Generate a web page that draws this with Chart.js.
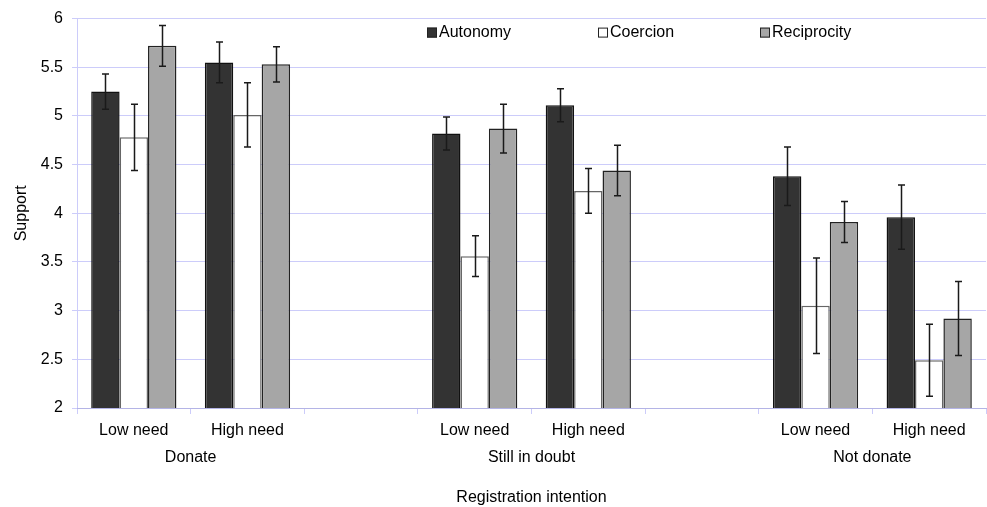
<!DOCTYPE html>
<html>
<head>
<meta charset="utf-8">
<title>Support by registration intention</title>
<script src="https://cdn.jsdelivr.net/npm/chart.js@4/dist/chart.umd.min.js"></script>
<style>
  html, body { margin: 0; padding: 0; background: #fff; }
  #wrap { width: 987px; height: 507px; }
</style>
</head>
<body>
<div id="wrap"><canvas id="chart" width="987" height="507"></canvas></div>
<script>
/* ── Data ─────────────────────────────────────────────────── */
var categories = ["Low need", "High need", "", "Low need", "High need", "", "Low need", "High need"];
var groups = ["Donate", "Still in doubt", "Not donate"];
var groupMembers = [[0, 1], [3, 4], [6, 7]];
var seriesNames = ["Autonomy", "Coercion", "Reciprocity"];

var autonomy      = [5.25, 5.55, null, 4.82, 5.11, null, 4.38, 3.96];
var autonomyErr   = [0.18, 0.21, null, 0.17, 0.17, null, 0.30, 0.33];
var coercion      = [4.78, 5.01, null, 3.56, 4.23, null, 3.05, 2.49];
var coercionErr   = [0.34, 0.33, null, 0.21, 0.23, null, 0.49, 0.37];
var reciprocity   = [5.72, 5.53, null, 4.87, 4.44, null, 3.91, 2.92];
var reciprocityErr = [0.21, 0.18, null, 0.25, 0.26, null, 0.21, 0.38];

var yTicks = { min: 2, max: 6, step: 0.5 };

/* ── Style ────────────────────────────────────────────────── */
var FONT = "'Liberation Sans', Arial, sans-serif";
var GRID = "rgb(204,204,250)";
Chart.defaults.font.family = FONT;
Chart.defaults.font.size = 16;
Chart.defaults.color = "#000";

/* ── Error bars ───────────────────────────────────────────── */
var errorBars = {
  id: "errorBars",
  afterDatasetsDraw: function (chart) {
    var ctx = chart.ctx, y = chart.scales.y;
    ctx.save();
    ctx.lineWidth = 1.5;
    ctx.strokeStyle = "#1a1a1a";
    chart.data.datasets.forEach(function (ds, i) {
      chart.getDatasetMeta(i).data.forEach(function (bar, j) {
        var v = ds.data[j], e = ds.errors[j];
        if (v == null || e == null) return;
        var top = y.getPixelForValue(v + e), bot = y.getPixelForValue(v - e);
        var x = Math.round(bar.x) + 0.5;
        ctx.beginPath();
        ctx.moveTo(x, top); ctx.lineTo(x, bot);
        ctx.moveTo(x - 3.5, top); ctx.lineTo(x + 3.5, top);
        ctx.moveTo(x - 3.5, bot); ctx.lineTo(x + 3.5, bot);
        ctx.stroke();
      });
    });
    ctx.restore();
  }
};

/* ── Group labels + inset legend ──────────────────────────── */
var extras = {
  id: "extras",
  afterDraw: function (chart) {
    var ctx = chart.ctx, x = chart.scales.x, area = chart.chartArea;
    ctx.save();
    ctx.font = "16px " + FONT;
    ctx.fillStyle = "#000";
    ctx.textAlign = "center";
    ctx.textBaseline = "middle";
    groups.forEach(function (g, k) {
      var m = groupMembers[k];
      var cx = (x.getPixelForValue(m[0]) + x.getPixelForValue(m[m.length - 1])) / 2;
      ctx.fillText(g, cx, area.bottom + 50);
    });

    var legendX = [area.left + 350, area.left + 521, area.left + 683];
    var ly = area.top + 14;
    ctx.textAlign = "left";
    chart.data.datasets.forEach(function (ds, i) {
      var bx = legendX[i];
      ctx.fillStyle = ds.backgroundColor;
      ctx.fillRect(bx, ly - 5, 10, 10);
      ctx.strokeStyle = "#222";
      ctx.lineWidth = 1;
      ctx.strokeRect(bx + 0.5, ly - 4.5, 9, 9);
      ctx.fillStyle = "#000";
      ctx.fillText(ds.label, bx + 12, ly);
    });
    ctx.restore();
  }
};

/* ── Chart ────────────────────────────────────────────────── */
new Chart(document.getElementById("chart"), {
  type: "bar",
  data: {
    labels: categories,
    datasets: [
      { label: seriesNames[0], data: autonomy, errors: autonomyErr,
        backgroundColor: "#333333", borderColor: "#111", borderWidth: 1.5 },
      { label: seriesNames[1], data: coercion, errors: coercionErr,
        backgroundColor: "#ffffff", borderColor: "#666", borderWidth: 1.5 },
      { label: seriesNames[2], data: reciprocity, errors: reciprocityErr,
        backgroundColor: "#a6a6a6", borderColor: "#222", borderWidth: 1.5 }
    ]
  },
  options: {
    responsive: false,
    animation: false,
    layout: { padding: { top: 17, right: 1, left: 0, bottom: 0 } },
    categoryPercentage: 0.75,
    barPercentage: 1.0,
    plugins: { legend: { display: false }, tooltip: { enabled: false } },
    scales: {
      y: {
        min: yTicks.min,
        max: yTicks.max,
        ticks: {
          stepSize: yTicks.step, padding: 9, color: "#000",
          callback: function (v) { return String(Number(v)); }
        },
        grid: { color: GRID, tickLength: 5, tickColor: GRID },
        border: { color: GRID },
        title: { display: true, text: "Support", padding: { top: 12, bottom: 0 } },
        afterFit: function (s) { s.width = 77; }
      },
      x: {
        ticks: { padding: 7, color: "#000", autoSkip: false, maxRotation: 0 },
        grid: { drawOnChartArea: false, color: GRID, tickLength: 6 },
        border: { color: "rgb(180,180,230)", width: 1 },
        title: { display: true, text: "Registration intention", padding: { top: 0, bottom: 0 } },
        afterFit: function (s) { s.height = 99; }
      }
    }
  },
  plugins: [errorBars, extras]
});
</script>
</body>
</html>
